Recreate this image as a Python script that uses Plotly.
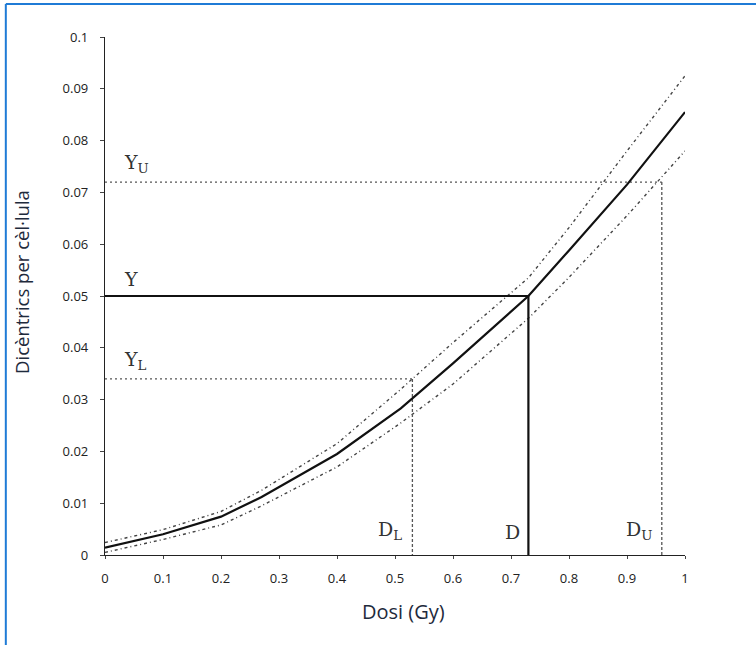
import plotly.graph_objects as go

# ---- data ----
dose = [0, 0.1, 0.2, 0.27, 0.4, 0.51, 0.6, 0.73, 0.8, 0.9, 1.0]
yield_main = [0.0014, 0.0040, 0.0074, 0.0112, 0.0195, 0.0283, 0.0370, 0.0500, 0.0588, 0.0715, 0.0855]
yield_upper = [0.0024, 0.0049, 0.0084, 0.0125, 0.0215, 0.0320, 0.0410, 0.0535, 0.0632, 0.0780, 0.0925]
yield_lower = [0.0005, 0.0030, 0.0058, 0.0095, 0.0170, 0.0255, 0.0330, 0.0457, 0.0536, 0.0655, 0.0780]

Y, D = 0.050, 0.73
Y_L, D_L = 0.034, 0.53
Y_U, D_U = 0.072, 0.96

x_ticks = [0, 0.1, 0.2, 0.3, 0.4, 0.5, 0.6, 0.7, 0.8, 0.9, 1]
x_tick_text = ["0", "0.1", "0.2", "0.3", "0.4", "0.5", "0.6", "0.7", "0.8", "0.9", "1"]
y_ticks = [0, 0.01, 0.02, 0.03, 0.04, 0.05, 0.06, 0.07, 0.08, 0.09, 0.1]
y_tick_text = ["0", "0.01", "0.02", "0.03", "0.04", "0.05", "0.06", "0.07", "0.08", "0.09", "0.1"]

x_title = "Dosi (Gy)"
y_title = "Dicèntrics per cèl·lula"

# ---- figure ----
fig = go.Figure()

band_style = dict(color="#444", width=1.4, dash="3px,3px,1px,3px")
fig.add_trace(go.Scatter(x=dose, y=yield_upper, mode="lines", line=band_style, hoverinfo="skip"))
fig.add_trace(go.Scatter(x=dose, y=yield_lower, mode="lines", line=band_style, hoverinfo="skip"))

ref_dot = dict(color="#555", width=1.3, dash="2px,3px")
ref_dash = dict(color="#555", width=1.3, dash="3px,2px")
# Y_U / D_U
fig.add_trace(go.Scatter(x=[0, D_U], y=[Y_U, Y_U], mode="lines", line=ref_dot, hoverinfo="skip"))
fig.add_trace(go.Scatter(x=[D_U, D_U], y=[Y_U, 0], mode="lines", line=ref_dash, hoverinfo="skip"))
# Y_L / D_L
fig.add_trace(go.Scatter(x=[0, D_L], y=[Y_L, Y_L], mode="lines", line=ref_dot, hoverinfo="skip"))
fig.add_trace(go.Scatter(x=[D_L, D_L], y=[Y_L, 0], mode="lines", line=ref_dash, hoverinfo="skip"))
# Y / D
fig.add_trace(go.Scatter(x=[0, D, D], y=[Y, Y, 0], mode="lines",
                         line=dict(color="#111", width=2.2), hoverinfo="skip"))

fig.add_trace(go.Scatter(x=dose, y=yield_main, mode="lines",
                         line=dict(color="#111", width=2.2), hoverinfo="skip"))

lab_font = dict(family="DejaVu Serif", size=19, color="#333")
for txt, yv in [("Y<sub>U</sub>", Y_U), ("Y", Y), ("Y<sub>L</sub>", Y_L)]:
    fig.add_annotation(x=0.03, y=yv, text=txt, showarrow=False, xanchor="left",
                       yanchor="bottom", yshift=4, font=lab_font)
for txt, xv, xs in [("D<sub>L</sub>", D_L, -8), ("D", D, -6), ("D<sub>U</sub>", D_U, -8)]:
    fig.add_annotation(x=xv, y=0, text=txt, showarrow=False, xanchor="right",
                       yanchor="bottom", xshift=xs, yshift=10, font=lab_font)

title_font_x = dict(family="Open Sans", size=20, color="#1e2a3c")
title_font_y = dict(family="Open Sans", size=18.5, color="#1e2a3c")
fig.add_annotation(xref="paper", yref="paper", x=0.514, y=-0.11, text=x_title,
                   showarrow=False, xanchor="center", yanchor="middle", font=title_font_x)
fig.add_annotation(xref="paper", yref="paper", x=-0.145, y=0.527, text=y_title,
                   showarrow=False, xanchor="center", yanchor="middle", textangle=-90,
                   font=title_font_y)

# blue frame (top and left edges)
frame = dict(color="#1f7bd6", width=2)
fig.add_shape(type="line", xref="paper", yref="paper", x0=-0.171, x1=1.3, y0=1.0637, y1=1.0637, line=frame)
fig.add_shape(type="line", xref="paper", yref="paper", x0=-0.171, x1=-0.171, y0=1.0637, y1=-0.3, line=frame)

tick_font = dict(family="Open Sans", size=13, color="#222")
fig.update_layout(
    width=756, height=645,
    margin=dict(l=105, r=71, t=37, b=90),
    paper_bgcolor="white", plot_bgcolor="white",
    showlegend=False,
    xaxis=dict(range=[0, 1], tickvals=x_ticks, ticktext=x_tick_text, showgrid=False,
               zeroline=False, showline=True, linecolor="#222", linewidth=1.3,
               ticks="outside", ticklen=3, tickcolor="#444", tickfont=tick_font,
               ticklabelstandoff=8, fixedrange=True),
    yaxis=dict(range=[0, 0.1], tickvals=y_ticks, ticktext=y_tick_text, showgrid=False,
               zeroline=False, showline=True, linecolor="#222", linewidth=1.3,
               ticks="outside", ticklen=4, tickcolor="#444", tickfont=tick_font,
               ticklabelstandoff=9, fixedrange=True),
)

fig.write_html("out.html", config={"displayModeBar": False},
               post_script="document.body.style.margin='0';")
